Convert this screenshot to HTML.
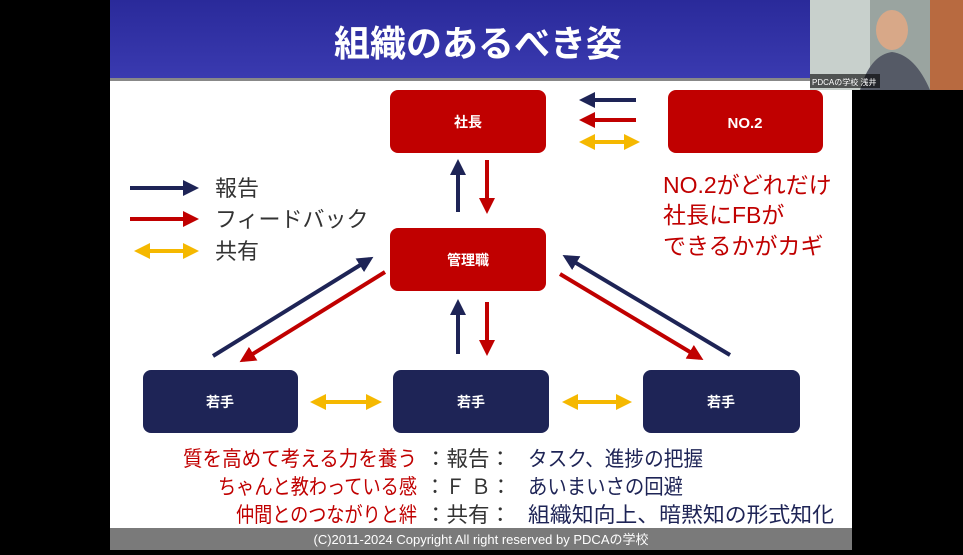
<!DOCTYPE html>
<html><head><meta charset="utf-8"><style>
body{margin:0;width:963px;height:550px;background:#000;overflow:hidden;font-family:"Liberation Sans","Noto Sans CJK JP",sans-serif}
svg text{font-family:"Liberation Sans","Noto Sans CJK JP",sans-serif}
</style></head><body>
<svg width="963" height="550" viewBox="0 0 963 550" xmlns="http://www.w3.org/2000/svg">
<defs>
<linearGradient id="tb" x1="0" y1="0" x2="0" y2="1"><stop offset="0" stop-color="#2a2a9a"/><stop offset="1" stop-color="#3a3ab0"/></linearGradient>
<marker id="an" markerWidth="4" markerHeight="4" refX="3" refY="2" orient="auto" markerUnits="strokeWidth"><path d="M0,0L4,2L0,4z" fill="#1e2456"/></marker>
<marker id="ar" markerWidth="4" markerHeight="4" refX="3" refY="2" orient="auto" markerUnits="strokeWidth"><path d="M0,0L4,2L0,4z" fill="#c00000"/></marker>
<marker id="ay" markerWidth="4" markerHeight="4" refX="3" refY="2" orient="auto-start-reverse" markerUnits="strokeWidth"><path d="M0,0L4,2L0,4z" fill="#f5b800"/></marker>
</defs>
<rect x="110" y="0" width="742" height="550" fill="#fff"/>
<rect x="110" y="0" width="742" height="79" fill="url(#tb)"/>
<rect x="110" y="78" width="742" height="3" fill="#888"/>
<text x="478" y="56" font-size="36" font-weight="bold" fill="#fff" text-anchor="middle">組織のあるべき姿</text>
<rect x="810" y="0" width="153" height="90" fill="#9aa4a0"/>
<rect x="810" y="0" width="60" height="90" fill="#c8d0cc"/>
<rect x="930" y="0" width="33" height="90" fill="#b86a40"/>
<ellipse cx="892" cy="30" rx="16" ry="20" fill="#d8a888"/>
<path d="M860 90 Q870 55 892 52 Q915 55 930 90z" fill="#555a66"/>
<rect x="810" y="74" width="70" height="14" fill="#000" opacity="0.6"/>
<text x="812" y="85" font-size="8" fill="#fff">PDCAの学校 浅井</text>
<g font-size="14" font-weight="bold" fill="#fff" text-anchor="middle">
<rect x="390" y="90" width="156" height="63" rx="8" fill="#c00000"/><text x="468" y="127">社長</text>
<rect x="668" y="90" width="155" height="63" rx="8" fill="#c00000"/><text x="745" y="128" font-size="15">NO.2</text>
<rect x="390" y="228" width="156" height="63" rx="8" fill="#c00000"/><text x="468" y="265">管理職</text>
<rect x="143" y="370" width="155" height="63" rx="8" fill="#1e2456"/><text x="220" y="407">若手</text>
<rect x="393" y="370" width="156" height="63" rx="8" fill="#1e2456"/><text x="471" y="407">若手</text>
<rect x="643" y="370" width="157" height="63" rx="8" fill="#1e2456"/><text x="721" y="407">若手</text>
</g>
<g stroke-width="4" fill="none">
<line x1="636" y1="100" x2="583" y2="100" stroke="#1e2456" marker-end="url(#an)"/>
<line x1="636" y1="120" x2="583" y2="120" stroke="#c00000" marker-end="url(#ar)"/>
<line x1="583" y1="142" x2="636" y2="142" stroke="#f5b800" marker-start="url(#ay)" marker-end="url(#ay)"/>
<line x1="458" y1="212" x2="458" y2="163" stroke="#1e2456" marker-end="url(#an)"/>
<line x1="487" y1="160" x2="487" y2="210" stroke="#c00000" marker-end="url(#ar)"/>
<line x1="458" y1="354" x2="458" y2="303" stroke="#1e2456" marker-end="url(#an)"/>
<line x1="487" y1="302" x2="487" y2="352" stroke="#c00000" marker-end="url(#ar)"/>
<line x1="213" y1="356" x2="370" y2="259" stroke="#1e2456" marker-end="url(#an)"/>
<line x1="385" y1="272" x2="243" y2="360" stroke="#c00000" marker-end="url(#ar)"/>
<line x1="730" y1="355" x2="566" y2="257" stroke="#1e2456" marker-end="url(#an)"/>
<line x1="560" y1="274" x2="700" y2="358" stroke="#c00000" marker-end="url(#ar)"/>
<line x1="314" y1="402" x2="378" y2="402" stroke="#f5b800" marker-start="url(#ay)" marker-end="url(#ay)"/>
<line x1="566" y1="402" x2="628" y2="402" stroke="#f5b800" marker-start="url(#ay)" marker-end="url(#ay)"/>
<line x1="130" y1="188" x2="195" y2="188" stroke="#1e2456" marker-end="url(#an)"/>
<line x1="130" y1="219" x2="195" y2="219" stroke="#c00000" marker-end="url(#ar)"/>
<line x1="138" y1="251" x2="195" y2="251" stroke="#f5b800" marker-start="url(#ay)" marker-end="url(#ay)"/>
</g>
<g font-size="22" fill="#333">
<text x="215" y="196">報告</text>
<text x="215" y="227">フィードバック</text>
<text x="215" y="259">共有</text>
</g>
<g font-size="23" fill="#c00000">
<text x="663" y="193">NO.2がどれだけ</text>
<text x="663" y="223">社長にFBが</text>
<text x="663" y="254">できるかがカギ</text>
</g>
<g font-size="21" lengthAdjust="spacingAndGlyphs">
<g fill="#c00000">
<text x="183" y="466" textLength="234" lengthAdjust="spacingAndGlyphs">質を高めて考える力を養う</text>
<text x="218" y="494" textLength="199" lengthAdjust="spacingAndGlyphs">ちゃんと教わっている感</text>
<text x="236" y="522" textLength="181" lengthAdjust="spacingAndGlyphs">仲間とのつながりと絆</text>
</g>
<g fill="#333">
<text x="425" y="466" textLength="86" lengthAdjust="spacingAndGlyphs">：報告：</text>
<text x="425" y="494" textLength="86" lengthAdjust="spacingAndGlyphs">：Ｆ Ｂ：</text>
<text x="425" y="522" textLength="86" lengthAdjust="spacingAndGlyphs">：共有：</text>
<text x="528" y="466" fill="#1e2456" textLength="175" lengthAdjust="spacingAndGlyphs">タスク、進捗の把握</text>
<text x="528" y="494" fill="#1e2456" textLength="155" lengthAdjust="spacingAndGlyphs">あいまいさの回避</text>
<text x="528" y="522" fill="#1e2456" textLength="306" lengthAdjust="spacingAndGlyphs">組織知向上、暗黙知の形式知化</text>
</g>
</g>
<rect x="110" y="528" width="742" height="22" fill="#7a7a7a"/>
<text x="481" y="544" font-size="13" fill="#fff" text-anchor="middle">(C)2011-2024 Copyright All right reserved by PDCAの学校</text>
</svg>
</body></html>
